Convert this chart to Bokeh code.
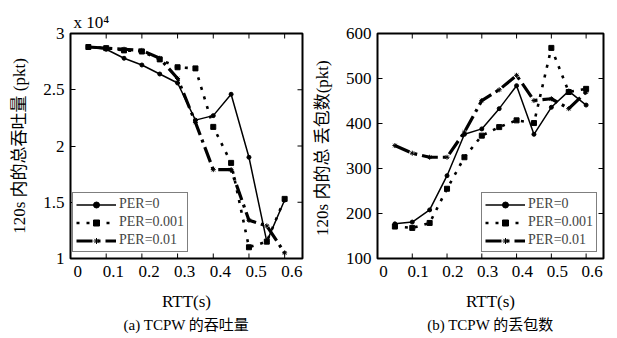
from bokeh.plotting import figure
from bokeh.models import FixedTicker, LinearAxis, Legend, LegendItem, Title, Range1d
from bokeh.layouts import row
from bokeh.embed import file_html
from bokeh.resources import INLINE

# ---------------- data ----------------
rtt = [0.05, 0.10, 0.15, 0.20, 0.25, 0.30, 0.35, 0.40, 0.45, 0.50, 0.55, 0.60]

# throughput in 120 s (x 10^4 pkt)
thr_per0 = [2.88, 2.86, 2.78, 2.72, 2.64, 2.56, 2.23, 2.27, 2.46, 1.90, 1.15, 1.52]
thr_per001 = [2.88, 2.87, 2.85, 2.84, 2.77, 2.70, 2.69, 2.17, 1.85, 1.10, 1.15, 1.53]
thr_per01 = [2.88, 2.87, 2.86, 2.85, 2.78, 2.60, 2.21, 1.79, 1.79, 1.34, 1.29, 1.05]

# packet losses in 120 s (pkt)
loss_per0 = [177, 181, 208, 284, 376, 388, 433, 484, 376, 436, 472, 441]
loss_per001 = [171, 168, 179, 255, 325, 373, 392, 407, 401, 568, 470, 477]
loss_per01 = [351, 334, 325, 325, 381, 451, 475, 507, 451, 455, 433, 470]

series_names = ["PER=0", "PER=0.001", "PER=0.01"]

x_ticks = [0, 0.1, 0.2, 0.3, 0.4, 0.5, 0.6]
x_tick_labels = ["0", "0.1", "0.2", "0.3", "0.4", "0.5", "0.6"]
thr_ticks = [1, 1.5, 2, 2.5, 3]
thr_tick_labels = ["1", "1.5", "2", "2.5", "3"]
loss_ticks = [100, 200, 300, 400, 500, 600]
loss_tick_labels = ["100", "200", "300", "400", "500", "600"]

x_label = "RTT(s)"
thr_ylabel = "120s 内的总吞吐量 (pkt)"
loss_ylabel = "120s  内的总 丢包数(pkt)"
thr_caption = "(a) TCPW 的吞吐量"
loss_caption = "(b) TCPW 的丢包数"
thr_scale = "x 10\u2074"

SERIF = "Liberation Serif"
MIXED = "Liberation Serif, Noto Sans CJK SC"

STYLES = [
    dict(line_width=1.5, line_dash="solid", marker="circle", msize=4),
    dict(line_width=2.6, line_dash="3 7", marker="square", msize=5),
    dict(line_width=3.2, line_dash="16 5 3 5", marker="asterisk", msize=5),
]


def make_fig(width, border_left, border_right, x_rng, y_rng, y_ticks, y_tick_labels,
             y_label, caption, series, legend_x, label_shift):
    p = figure(width=width, height=338, x_range=Range1d(*x_rng), y_range=Range1d(*y_rng),
               output_backend="svg", toolbar_location=None, x_axis_location=None,
               min_border_left=border_left, min_border_right=border_right,
               min_border_top=33, min_border_bottom=80)
    p.grid.visible = False
    p.outline_line_color = "black"
    p.outline_line_width = 2
    p.background_fill_color = "white"
    p.border_fill_color = "white"

    # y axis (left) with inward ticks
    ya = p.yaxis[0]
    ya.ticker = FixedTicker(ticks=y_ticks)
    ya.major_label_overrides = {t: l for t, l in zip(y_ticks, y_tick_labels)}

    # x tick labels: the source figure prints them slightly right of the tick marks
    p.extra_x_ranges = {"lab": Range1d(x_rng[0] - label_shift, x_rng[1] - label_shift)}
    xa = LinearAxis(x_range_name="lab", ticker=FixedTicker(ticks=x_ticks))
    xa.major_label_overrides = {t: l for t, l in zip(x_ticks, x_tick_labels)}
    xa.major_tick_line_color = None
    xa.major_tick_in = 0
    xa.major_tick_out = 0
    xa.axis_line_color = None
    p.add_layout(xa, "below")

    for ax in (xa, ya):
        ax.minor_tick_line_color = None
        ax.major_label_text_font = SERIF
        ax.major_label_text_font_size = "17px"
        ax.major_label_text_color = "black"
        ax.axis_label_text_font = MIXED
        ax.axis_label_text_font_size = "17px"
        ax.axis_label_text_font_style = "normal"
        ax.axis_label_text_color = "black"
    ya.major_tick_in = 5
    ya.major_tick_out = 0
    ya.major_tick_line_color = "black"
    ya.axis_line_color = "black"
    xa.axis_label = x_label
    xa.major_label_standoff = 7
    xa.axis_label_standoff = 12
    ya.axis_label = y_label
    ya.major_label_standoff = 6
    ya.axis_label_standoff = 11

    # inward tick marks on bottom, top and right edges
    x0, x1 = x_rng
    y0, y1 = y_rng
    tick_kw = dict(length=5, length_units="screen", angle_units="deg",
                   line_color="black", line_width=1)
    p.ray(x=x_ticks, y=[y0] * len(x_ticks), angle=90, **tick_kw)
    p.ray(x=x_ticks, y=[y1] * len(x_ticks), angle=-90, **tick_kw)
    p.ray(x=[x1] * len(y_ticks), y=y_ticks, angle=180, **tick_kw)

    items = []
    for name, ys, st in zip(series_names, series, STYLES):
        lr = p.line(rtt, ys, line_color="black", line_width=st["line_width"],
                    line_dash=st["line_dash"], line_cap="butt")
        mr = p.scatter(rtt, ys, marker=st["marker"], size=st["msize"],
                       line_color="black", fill_color="black", line_width=1)
        items.append(LegendItem(label=name, renderers=[lr, mr]))

    legend = Legend(items=items, location=(legend_x, 6))
    legend.border_line_color = "black"
    legend.border_line_width = 1.5
    legend.background_fill_color = "white"
    legend.background_fill_alpha = 1
    legend.label_text_font = SERIF
    legend.label_text_font_size = "14px"
    legend.glyph_width = 40
    legend.glyph_height = 15
    legend.label_height = 15
    legend.label_standoff = 3
    legend.spacing = 2
    legend.padding = 3
    legend.margin = 0
    p.add_layout(legend)

    cap = Title(text=caption, align="center", text_font=MIXED, text_font_size="15px",
                text_font_style="normal", text_color="black", standoff=3, offset=0)
    p.add_layout(cap, "below")
    return p


p1 = make_fig(308, 70, 6, (0, 0.65), (1, 3), thr_ticks, thr_tick_labels, thr_ylabel,
              thr_caption, [thr_per0, thr_per001, thr_per01], 2, 0.02)
p1.add_layout(Title(text=thr_scale, align="left", offset=3, standoff=4,
                    text_font=SERIF, text_font_size="17px", text_font_style="normal",
                    text_color="black"), "above")

p2 = make_fig(309, 69, 14, (0, 0.65), (100, 600), loss_ticks, loss_tick_labels,
              loss_ylabel, loss_caption, [loss_per0, loss_per001, loss_per01], 104, 0.017)

layout = row(p1, p2)
open("out.html", "w").write(file_html(layout, INLINE))
